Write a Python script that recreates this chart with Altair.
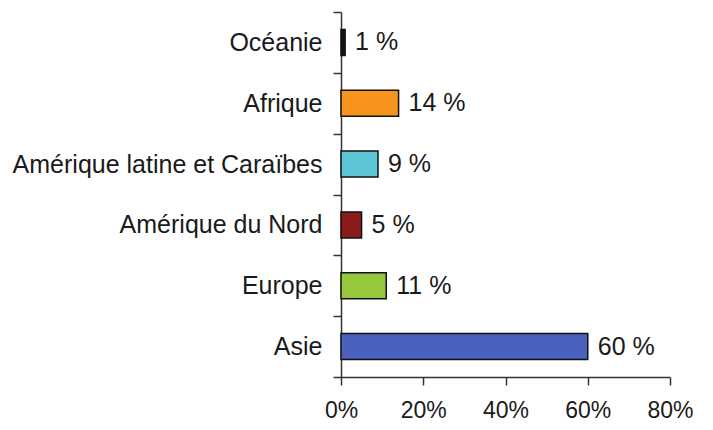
import altair as alt
import pandas as pd

regions = ["Océanie", "Afrique", "Amérique latine et Caraïbes", "Amérique du Nord", "Europe", "Asie"]
shares = [0.01, 0.14, 0.09, 0.05, 0.11, 0.60]
labels = ["1 %", "14 %", "9 %", "5 %", "11 %", "60 %"]
colors = ["#111111", "#F7941D", "#5BC5D5", "#8B1A1A", "#97C83C", "#4A62BD"]
x_ticks = [0, 0.2, 0.4, 0.6, 0.8]

df = pd.DataFrame({"region": regions, "share": shares, "label": labels})

FONT = "Liberation Sans"
AX = "#333333"

y_enc = alt.Y(
    "region:N",
    sort=regions,
    scale=alt.Scale(paddingInner=0, paddingOuter=0),
    axis=alt.Axis(
        title=None, tickBand="extent", labelFontSize=25, labelFont=FONT,
        labelColor="#1a1a1a", labelPadding=11, labelLimit=1000, tickSize=8,
        domainColor=AX, tickColor=AX, domainWidth=1.5, tickWidth=1.5, grid=False,
    ),
)
x_enc = alt.X(
    "share:Q",
    scale=alt.Scale(domain=[0, 0.8], nice=False),
    axis=alt.Axis(
        title=None, format=".0%", values=x_ticks, labelFontSize=23, labelFont=FONT,
        labelColor="#1a1a1a", labelPadding=14, labelFlush=False, labelOverlap=False,
        tickSize=8, domainColor=AX, tickColor=AX, domainWidth=1.5, tickWidth=1.5,
        grid=False,
    ),
)

bars = alt.Chart(df).mark_bar(size=26, stroke="#111111", strokeWidth=1.5).encode(
    x=x_enc,
    y=y_enc,
    color=alt.Color("region:N", scale=alt.Scale(domain=regions, range=colors), legend=None),
)

text = alt.Chart(df).mark_text(
    align="left", baseline="middle", dx=10, fontSize=25, font=FONT, color="#1a1a1a"
).encode(
    x="share:Q",
    y=alt.Y("region:N", sort=regions),
    text="label:N",
)

chart = alt.layer(bars, text).properties(
    width=329,
    height=365,
    padding={"left": 333, "top": 4, "right": 30, "bottom": 51},
    autosize="none",
).configure_view(stroke=None)

chart.save("out.html", embed_options={"renderer": "svg", "actions": False})
